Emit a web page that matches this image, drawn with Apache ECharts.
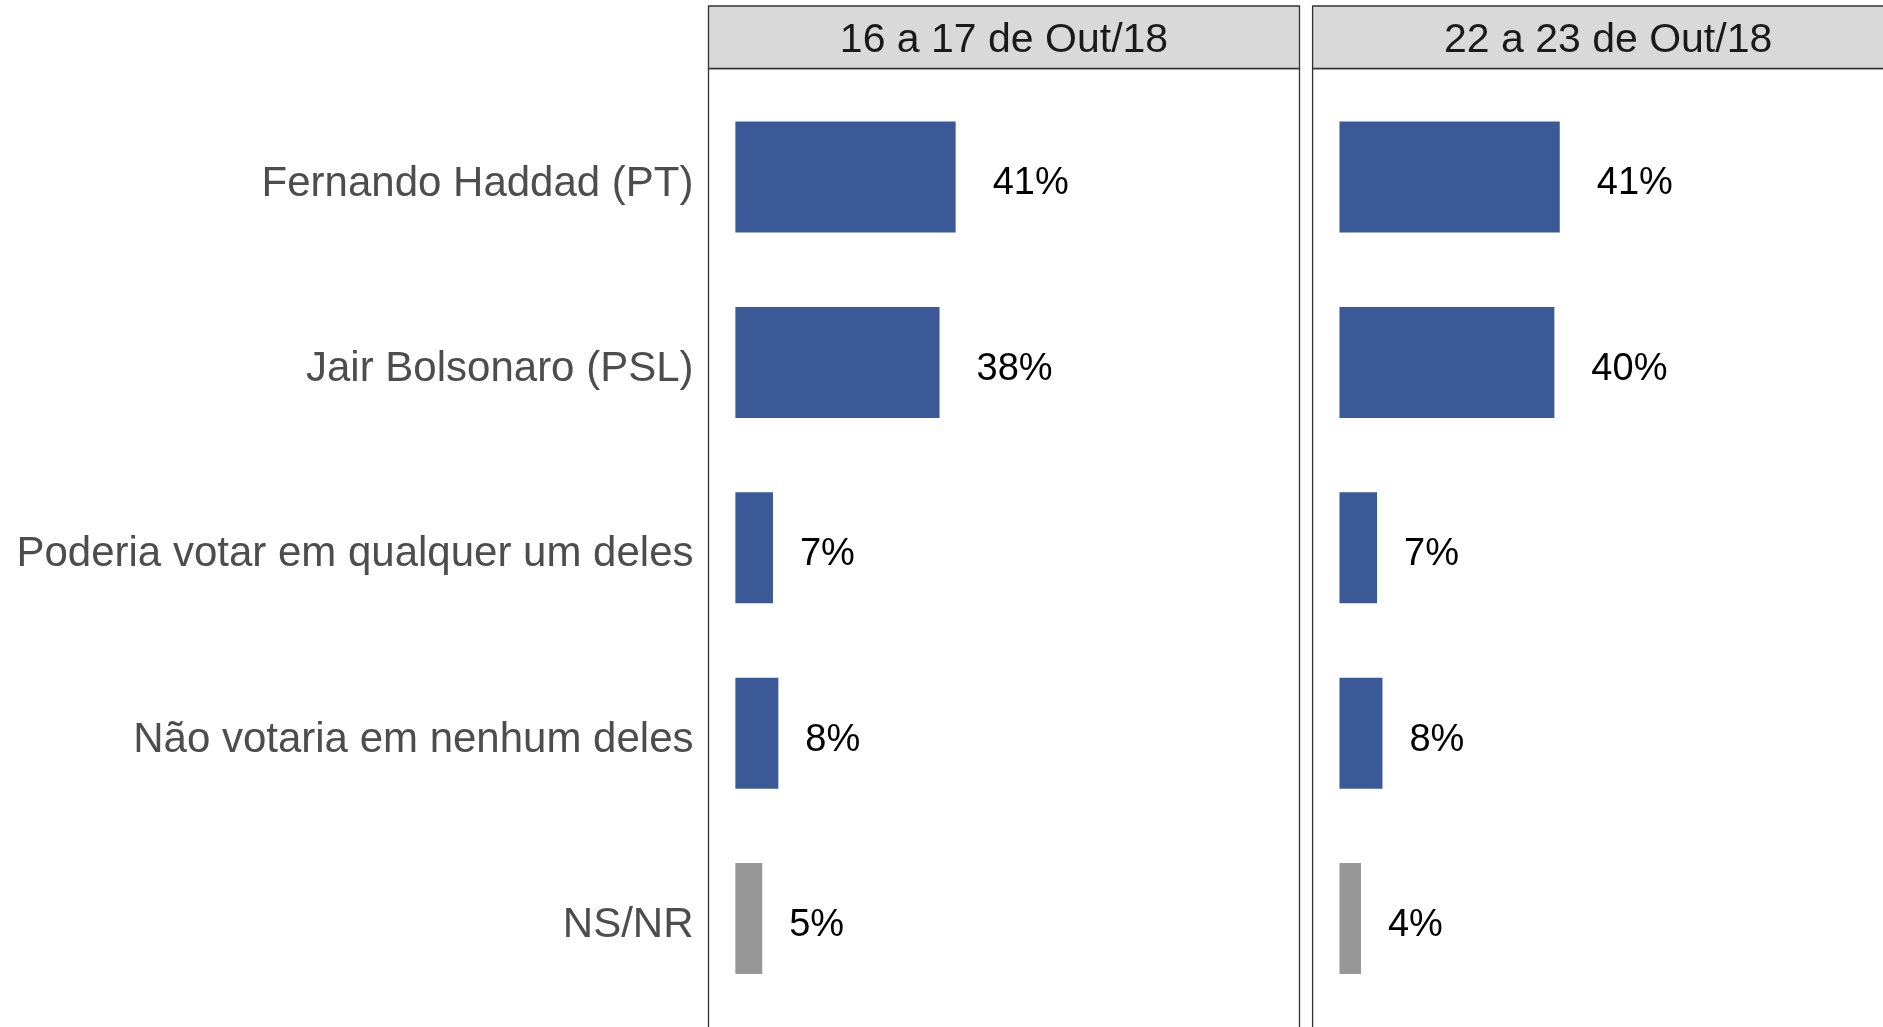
<!DOCTYPE html>
<html>
<head>
<meta charset="utf-8">
<script src="https://cdn.jsdelivr.net/npm/echarts@6/dist/echarts.min.js"></script>
<style>
  html, body { margin: 0; padding: 0; background: #fff; }
  #chart { width: 1883px; height: 1027px; }
</style>
</head>
<body>
<div id="chart"></div>
<script>
const categories = [
  'Fernando Haddad (PT)',
  'Jair Bolsonaro (PSL)',
  'Poderia votar em qualquer um deles',
  'Não votaria em nenhum deles',
  'NS/NR'
];
const periods = ['16 a 17 de Out/18', '22 a 23 de Out/18'];
const valuesOct16 = [41, 38, 7, 8, 5];
const valuesOct22 = [41, 40, 7, 8, 4];

// layout of the two facet panels
const chartWidth = 1883;
const panelLeft = [708.5, 1312.6];
const panelWidth = 591;
const stripTop = 6;
const stripHeight = 62.5;
const gridTop = 84.3;
const gridHeight = 927;
const xMin = -5, xMax = 105;
const pxPerUnit = panelWidth / (xMax - xMin);
const font = 'Liberation Sans, Arial, sans-serif';

const blue = '#3b5897';
const grey = '#979797';

const chart = echarts.init(document.getElementById('chart'));

const seriesValues = [valuesOct16, valuesOct22];

// the second panel runs past the right edge, so clip its grid and its range together
const gridWidths = panelLeft.map(l => Math.min(panelWidth, chartWidth - l));

const grids = panelLeft.map((l, i) => ({ left: l, width: gridWidths[i], top: gridTop, height: gridHeight }));

const xAxes = panelLeft.map((l, i) => ({
  type: 'value', gridIndex: i, min: xMin, max: xMin + gridWidths[i] / pxPerUnit,
  show: false
}));

const yAxes = panelLeft.map((l, i) => ({
  type: 'category', gridIndex: i, data: categories, inverse: true,
  axisLine: { show: false }, axisTick: { show: false }, splitLine: { show: false },
  axisLabel: {
    show: i === 0, margin: 15, color: '#4d4d4d',
    fontSize: 42, fontFamily: font,
    verticalAlign: 'top', lineHeight: 14
  }
}));

const series = seriesValues.map((vals, i) => ({
  type: 'bar', xAxisIndex: i, yAxisIndex: i,
  barWidth: 111,
  data: vals.map((v, j) => ({
    value: v,
    itemStyle: { color: j === categories.length - 1 ? grey : blue },
    label: { distance: v >= 10 ? 37 : 27 }
  })),
  label: {
    show: true, position: 'right', formatter: '{c}%',
    color: '#000', fontSize: 38, fontFamily: font, offset: [0, 7]
  },
  silent: true
}));

// facet strips and panel borders
const graphic = [];
panelLeft.forEach((l, i) => {
  graphic.push({
    type: 'rect', z: 10,
    shape: { x: l, y: stripTop + stripHeight, width: panelWidth, height: 1100 },
    style: { fill: 'none', stroke: '#333', lineWidth: 1.3 }
  });
  graphic.push({
    type: 'rect', z: 10,
    shape: { x: l, y: stripTop, width: panelWidth, height: stripHeight },
    style: { fill: '#d9d9d9', stroke: '#333', lineWidth: 1.3 }
  });
  graphic.push({
    type: 'text', z: 11,
    x: l + panelWidth / 2, y: stripTop + stripHeight / 2 + 3.5,
    style: {
      text: periods[i], fill: '#1a1a1a', font: '41px ' + font,
      align: 'center', verticalAlign: 'middle'
    }
  });
});

chart.setOption({
  animation: false,
  grid: grids,
  xAxis: xAxes,
  yAxis: yAxes,
  series: series,
  graphic: graphic
});
</script>
</body>
</html>
